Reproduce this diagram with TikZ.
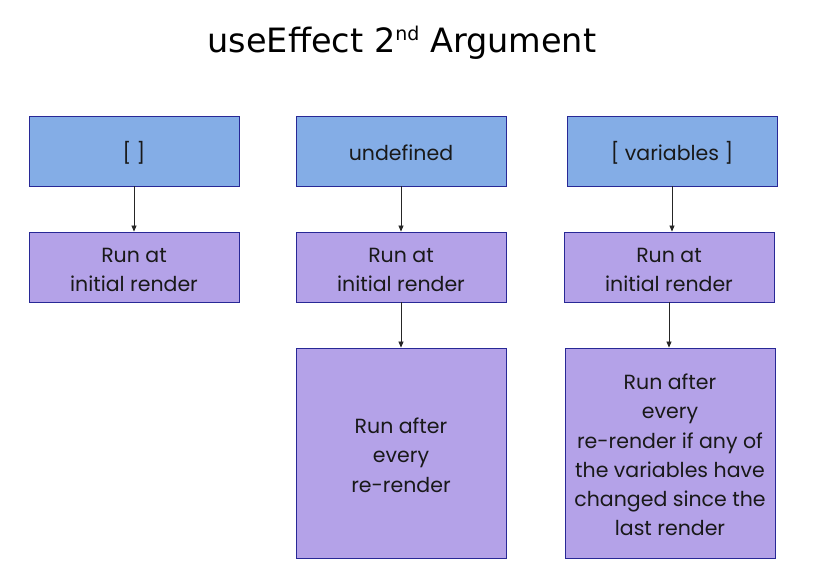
\documentclass[tikz,border=0pt]{standalone}
\usepackage{fontspec}
\setmainfont{Poppins}
\newfontfamily\titlefont{DejaVu Sans}
\usetikzlibrary{arrows.meta}
\definecolor{bluefill}{RGB}{132,173,230}
\definecolor{purplefill}{RGB}{180,162,232}
\definecolor{edgeblue}{RGB}{40,40,150}
\tikzset{
  box/.style={draw=edgeblue, line width=0.9pt, inner sep=0pt},
  argbox/.style={box, fill=bluefill, minimum width=210pt, minimum height=70pt},
  runbox/.style={box, fill=purplefill, minimum width=210pt},
  boxtext/.style={align=center, inner sep=0pt,
    font=\fontsize{20.5}{29.3}\selectfont, text=black!90},
  conn/.style={-{Triangle[length=6pt,width=5pt]}, line width=0.7pt, black!85}
}
\begin{document}
\begin{tikzpicture}[x=1pt,y=-1pt]
\useasboundingbox (0,0) rectangle (825,587);
\fill[white] (0,0) rectangle (825,587);
\node[font=\titlefont\fontsize{33.5}{38}\selectfont] (title) at (402,43)
  {useEffect 2\raisebox{0.65ex}{\fontsize{19}{22}\selectfont nd} Argument};
% top argument boxes
\node[argbox] (a1) at (134,151) {};
\node[argbox] (a2) at (401,151) {};
\node[argbox] (a3) at (672,151) {};
\node[boxtext] (a1t) at ([yshift=-2pt]a1.center) {[ ]};
\node[boxtext] (a2t) at ([yshift=-2pt]a2.center) {undefined};
\node[boxtext] (a3t) at ([yshift=-2pt]a3.center) {[ variables ]};
% initial render boxes
\node[runbox, minimum height=70pt] (r1) at (134,267) {};
\node[runbox, minimum height=70pt] (r2) at (401,267) {};
\node[runbox, minimum height=70pt] (r3) at (669,267) {};
\node[boxtext] (r1t) at ([yshift=-3pt]r1.center) {Run at\\initial render};
\node[boxtext] (r2t) at ([yshift=-3pt]r2.center) {Run at\\initial render};
\node[boxtext] (r3t) at ([yshift=-3pt]r3.center) {Run at\\initial render};
% re-render boxes
\node[runbox, minimum height=210pt] (e2) at (401,453) {};
\node[runbox, minimum height=210pt] (e3) at (670,453) {};
\node[boxtext] (e2t) at ([yshift=-2pt]e2.center) {Run after\\every\\re-render};
\node[boxtext] (e3t) at ([yshift=-2pt]e3.center)
  {Run after\\every\\re-render if any of\\the variables have\\changed since the\\last render};
% connectors
\draw[conn] (a1.south) -- (r1.north);
\draw[conn] (a2.south) -- (r2.north);
\draw[conn] (a3.south) -- (a3.south |- r3.north);
\draw[conn] (r2.south) -- (e2.north);
\draw[conn] (r3.south) -- (r3.south |- e3.north);
\end{tikzpicture}
\end{document}
